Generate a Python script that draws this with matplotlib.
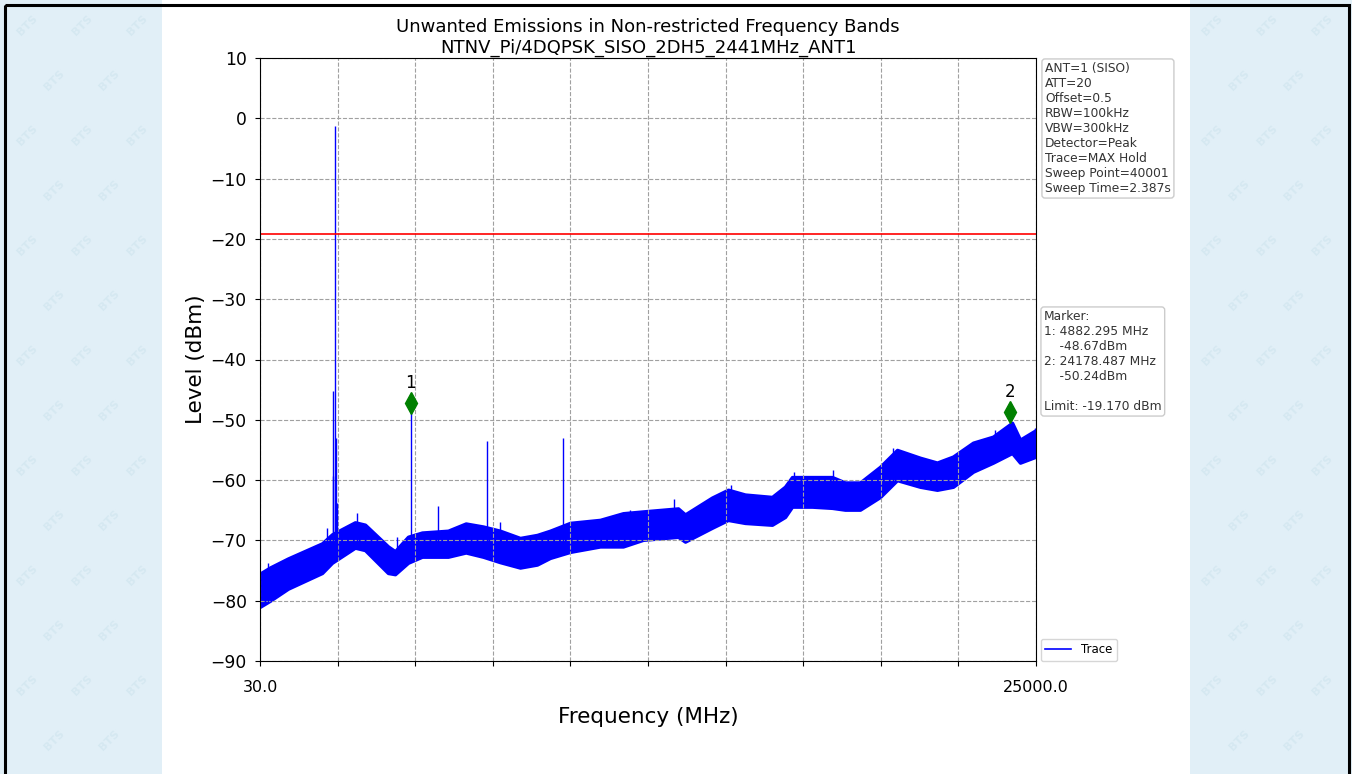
import matplotlib
matplotlib.use("Agg")
import matplotlib.pyplot as plt
from matplotlib.patches import Rectangle
import numpy as np

# noise floor envelope (MHz, dBm)
freq = [30, 352, 931, 2025, 2347, 3087, 3409, 4149, 4374, 4793, 5243, 6080,
        6650, 7206, 7753, 8397, 8944, 9362, 10006, 10971, 11711, 12355, 13481, 13707,
        14575, 15090, 15637, 16506, 16924, 17150, 17793, 18437, 18855, 19338,
        19982, 20529, 21269, 21815, 22330, 22974, 23617, 24229, 24486, 25000]
lower = [-81.0, -80.0, -78.0, -75.4, -73.7, -71.2, -71.6, -75.4, -75.6, -73.7,
         -72.7, -72.7, -72.0, -72.7, -73.6, -74.5, -74.0, -72.9, -71.9, -71.0, -71.0,
         -69.9, -69.4, -70.2, -67.9, -66.6, -67.1, -67.4, -66.1, -64.4, -64.4,
         -64.6, -64.9, -64.9, -62.8, -60.0, -61.1, -61.6, -61.1, -58.6, -57.1,
         -55.5, -57.1, -56.1]
upper = [-75.5, -74.5, -73.0, -70.5, -69.0, -67.0, -67.4, -71.0, -71.8, -69.4,
         -68.7, -68.4, -67.2, -67.7, -68.4, -69.6, -69.1, -68.4, -67.1, -66.6, -65.5,
         -65.2, -64.7, -65.7, -62.9, -61.6, -62.4, -62.8, -61.1, -59.5, -59.5,
         -59.5, -60.4, -60.4, -57.8, -55.0, -56.3, -57.1, -56.1, -53.8, -52.8,
         -50.5, -53.3, -51.7]

# carrier, harmonics and the taller noise spikes (MHz, peak dBm)
spur_freq = [2441, 2395, 2460, 2380, 2500, 3142, 4882.295, 5758, 7323, 9764,
             287, 2186, 4439, 7753, 11937, 13353, 15187, 17214, 18469, 20400,
             23682, 24970]
spur_peak = [-1.3, -45.3, -53.0, -59.4, -63.8, -65.4, -48.67, -64.3, -53.5, -53.0,
             -73.7, -68.0, -69.4, -66.9, -64.9, -63.2, -60.8, -58.6, -58.3, -54.6,
             -51.7, -51.3]

marker_freq = [4882.295, 24178.487]
marker_level = [-48.67, -50.24]
marker_names = ["1", "2"]

limit = -19.170
f_start, f_stop = 30.0, 25000.0

settings_text = ("ANT=1 (SISO)\nATT=20\nOffset=0.5\nRBW=100kHz\nVBW=300kHz\n"
                 "Detector=Peak\nTrace=MAX Hold\nSweep Point=40001\nSweep Time=2.387s")
marker_text = ("Marker:\n1: 4882.295 MHz\n    -48.67dBm\n2: 24178.487 MHz\n"
               "    -50.24dBm\n\nLimit: -19.170 dBm")

W, H = 1352, 774
fig = plt.figure(figsize=(W / 100, H / 100), dpi=100)
fig.patch.set_facecolor("#e1eff7")

# page background: white middle strip, watermark on the sides, outer frame
bg = fig.add_axes([0, 0, 1, 1], zorder=-10)
bg.set_xlim(0, W)
bg.set_ylim(H, 0)
bg.axis("off")
bg.add_patch(Rectangle((162, 0), 1190 - 162, H, facecolor="white", edgecolor="none"))
for x0, x1 in [(15, 150), (1200, 1330)]:
    for row, yy in enumerate(range(25, H - 10, 55)):
        for xx in np.arange(x0 + 12 + (row % 2) * 27, x1, 55):
            bg.text(xx, yy, "BTS", color="#d5e8f1", rotation=45, fontsize=8,
                    fontweight="bold", ha="center", va="center")
bg.add_patch(Rectangle((5, 5), 1349 - 5, H + 10, fill=False, edgecolor="black",
                       linewidth=2.2))

ax = fig.add_axes([260 / W, 1 - 661 / H, (1036 - 260) / W, (661 - 58) / H])

ax.fill_between(freq, lower, upper, color="blue", linewidth=2.5, edgecolor="blue")
base = np.interp(spur_freq, freq, lower)
ax.vlines(spur_freq, base, spur_peak, color="blue", linewidth=1.0)

ax.axhline(limit, color="red", linewidth=1.2)

for f, lvl, name in zip(marker_freq, marker_level, marker_names):
    ax.plot(f, lvl + 1.5, marker="d", color="green", markersize=11, linestyle="none")
    ax.text(f, lvl + 3.3, name, ha="center", va="bottom", fontsize=12)

ax.set_xlim(f_start, f_stop)
ax.set_ylim(-90, 10)
ticks = np.linspace(f_start, f_stop, 11)
ax.set_xticks(ticks)
ax.set_xticklabels(["30.0"] + [""] * 9 + ["25000.0"], fontsize=11.5)
ax.set_yticks(np.arange(-90, 11, 10))
ax.set_yticklabels([f"{v}".replace("-", "\u2212") for v in range(-90, 11, 10)], fontsize=12.3)
ax.tick_params(axis="x", pad=10)
ax.tick_params(axis="y", pad=6)
ax.grid(True, linestyle="--", color="#a0a0a0", linewidth=0.8)

ax.set_title("Unwanted Emissions in Non-restricted Frequency Bands\nNTNV_Pi/4DQPSK_SISO_2DH5_2441MHz_ANT1",
             fontsize=13, pad=4, linespacing=1.15)
ax.set_xlabel("Frequency (MHz)", fontsize=15.5, labelpad=9)
ax.set_ylabel("Level (dBm)", fontsize=15.5, labelpad=3)

box = dict(boxstyle="round,pad=0.25", facecolor="white", edgecolor="#cccccc", linewidth=1)
fig.text(1045 / W, 1 - 62 / H, settings_text, fontsize=8.8, va="top", ha="left",
         color="#333333", bbox=box, linespacing=1.2)
fig.text(1044 / W, 1 - 310 / H, marker_text, fontsize=8.8, va="top", ha="left",
         color="#333333", bbox=box, linespacing=1.2)

ax.legend(loc="lower left", bbox_to_anchor=(1.003, -0.004), fontsize=8.5, handlelength=2.2,
          borderaxespad=0.2, handles=[plt.Line2D([], [], color="blue", linewidth=1.2)],
          labels=["Trace"])

fig.savefig("out.png", dpi=100, facecolor=fig.get_facecolor())
